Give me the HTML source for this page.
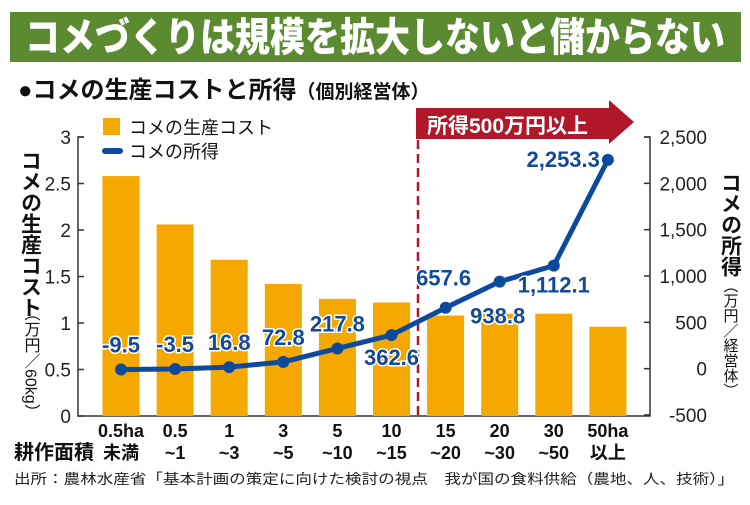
<!DOCTYPE html>
<html><head><meta charset="utf-8"><style>
body{margin:0;width:750px;height:500px;background:#fff;overflow:hidden;font-family:"Liberation Sans","Noto Sans CJK JP",sans-serif}
</style></head><body>
<svg id="c" width="750" height="500" xmlns="http://www.w3.org/2000/svg" font-family="Liberation Sans, Noto Sans CJK JP, sans-serif">
<rect x="10" y="12" width="731" height="50" fill="#5b8a30"/>
<text x="375" y="51" font-size="40" font-weight="900" fill="#fff" text-anchor="middle" textLength="700" lengthAdjust="spacingAndGlyphs">コメづくりは規模を拡大しないと儲からない</text>
<text x="18" y="98" font-size="24" font-weight="bold" fill="#111">●コメの生産コストと所得<tspan font-size="19">（個別経営体）</tspan></text>
<g id="axes"></g>
<g id="marks"></g>
<text x="14" y="484" font-size="14" fill="#222" textLength="720" lengthAdjust="spacingAndGlyphs">出所：農林水産省「基本計画の策定に向けた検討の視点　我が国の食料供給（農地、人、技術）」</text>
</svg>
<script>
const categoriesTop = ["0.5ha","0.5","1","3","5","10","15","20","30","50ha"];
const categoriesBottom = ["未満","~1","~3","~5","~10","~15","~20","~30","~50","以上"];
const costValues = [2.58,2.06,1.68,1.42,1.26,1.22,1.08,1.10,1.10,0.96];
const incomeValues = [-9.5,-3.5,16.8,72.8,217.8,362.6,657.6,938.8,1112.1,2253.3];
const incomeLabels = ["-9.5","-3.5","16.8","72.8","217.8","362.6","657.6","938.8","1,112.1","2,253.3"];
const leftTicks = [0,0.5,1,1.5,2,2.5,3];
const rightTicks = [-500,0,500,1000,1500,2000,2500];
const rightTickLabels = ["-500","0","500","1,000","1,500","2,000","2,500"];

const NS="http://www.w3.org/2000/svg";
const yL = v => 416 - v*93;
const yR = v => 415 - (v+500)*(278/3000);
const xC = i => 121 + i*54.1;
function mk(tag, attrs, parent, text){const e=document.createElementNS(NS,tag);for(const k in attrs)e.setAttribute(k,attrs[k]);if(text!==undefined)e.textContent=text;parent.appendChild(e);return e;}
const ax=document.getElementById('axes'), mg=document.getElementById('marks');

costValues.forEach((v,i)=>{
  const r=mk('rect',{x:xC(i)-18.5,y:yL(v),width:37,height:yL(0)-yL(v),fill:'#f5a800'},mg);
  
  
});
let l=mk('path',{d:'M84 137H78V416H650V137H644',stroke:'#333','stroke-width':1.5,fill:'none'},ax);


leftTicks.forEach(t=>{
  mk('line',{x1:78,x2:84,y1:yL(t),y2:yL(t),stroke:'#333','stroke-width':1.5},ax);
  const tx=mk('text',{x:71,y:yL(t)+7,'font-size':19,'text-anchor':'end',fill:'#222'},ax,String(t));
  
  
});
rightTicks.forEach((t,i)=>{
  mk('line',{x1:644,x2:650,y1:yR(t),y2:yR(t),stroke:'#333','stroke-width':1.5},ax);
  const tx=mk('text',{x:707,y:yR(t)+7,'font-size':19,'text-anchor':'end',fill:'#222'},ax,rightTickLabels[i]);
  
  
});
categoriesTop.forEach((c,i)=>{
  const a=mk('text',{x:xC(i),y:437,'font-size':18,'text-anchor':'middle',fill:'#111','font-weight':'bold'},ax,c);
  
  
  const b=mk('text',{x:xC(i),y:459,'font-size':18,'text-anchor':'middle',fill:'#111','font-weight':'bold'},ax,categoriesBottom[i]);
  
  
});
let t=mk('text',{x:14,y:459,'font-size':20,'font-weight':'bold',fill:'#111'},ax,'耕作面積');


t=mk('text',{x:30,y:150,'font-size':21,'font-weight':'bold',fill:'#111','writing-mode':'tb'},ax,'コメの生産コスト');


t=mk('text',{x:30,y:305,'font-size':16,fill:'#111','writing-mode':'tb'},ax,'（万円／60kg）');


t=mk('text',{x:730,y:172,'font-size':21,'font-weight':'bold',fill:'#111','writing-mode':'tb'},ax,'コメの所得');


t=mk('text',{x:730,y:278,'font-size':15,fill:'#111','writing-mode':'tb'},ax,'（万円／経営体）');


t=mk('rect',{x:103,y:118,width:17,height:17,fill:'#f5a800'},ax);


t=mk('text',{x:129,y:134,'font-size':18,fill:'#111'},ax,'コメの生産コスト');


t=mk('line',{x1:105,x2:120,y1:151,y2:151,stroke:'#0d4a9e','stroke-width':6,'stroke-linecap':'round'},ax);


t=mk('text',{x:129,y:158,'font-size':18,fill:'#111'},ax,'コメの所得');


t=mk('line',{x1:418,x2:418,y1:140,y2:416,stroke:'#b0182a','stroke-width':2.5,'stroke-dasharray':'9,5'},ax);


t=mk('path',{d:'M416 108H609V100L634 122L609 144V139H416Z',fill:'#b0182a'},ax);


t=mk('text',{x:427,y:133,'font-size':21,'font-weight':'bold',fill:'#fff'},ax,'所得500万円以上');


const pts=incomeValues.map((v,i)=>xC(i)+','+yR(v)).join(' ');
t=mk('polyline',{points:pts,fill:'none',stroke:'#0d4a9e','stroke-width':5,'stroke-linejoin':'round'},mg);


const offs=[[0,-17,'middle'],[0,-17,'middle'],[0,-17,'middle'],[0,-17,'middle'],[0,-17,'middle'],[0,30,'middle'],[-2,-22,'middle'],[-2,42,'middle'],[0,27,'middle'],[-8,7,'end']];
incomeValues.forEach((v,i)=>{
  const c=mk('circle',{cx:xC(i),cy:yR(v),r:6,fill:'#0d4a9e'},mg);
  
  
  const o=offs[i];
  const tx=mk('text',{x:xC(i)+o[0],y:yR(v)+o[1],'font-size':22,'font-weight':'900',fill:'#124a9a',stroke:'#fff','stroke-width':3,'paint-order':'stroke','text-anchor':o[2]},mg,incomeLabels[i]);
  
  
});
</script>
</body></html>
